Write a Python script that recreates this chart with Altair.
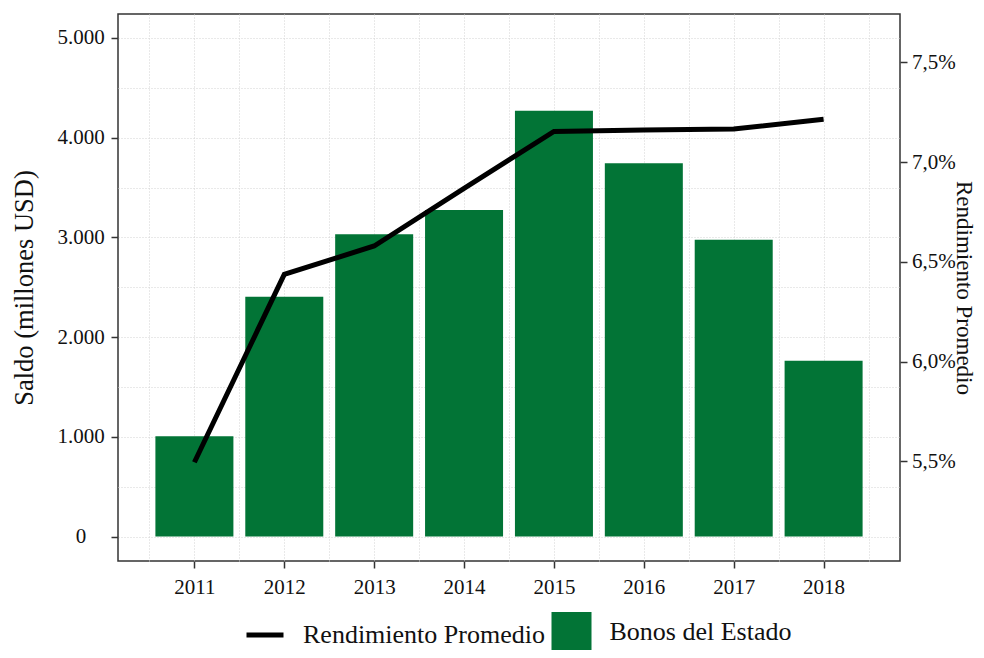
import altair as alt
import pandas as pd

# ---- data ----
anios = [2011, 2012, 2013, 2014, 2015, 2016, 2017, 2018]
saldo = [1005, 2404, 3031, 3275, 4269, 3744, 2976, 1762]          # millones USD
rendimiento = [5.495, 6.437, 6.579, 6.868, 7.153, 7.161, 7.165, 7.214]  # %

serie_linea = "Rendimiento Promedio"
serie_barra = "Bonos del Estado"

df = pd.DataFrame({
    "anio": anios,
    "saldo": saldo,
    "rend": rendimiento,
    "s_linea": [serie_linea] * len(anios),
    "s_barra": [serie_barra] * len(anios),
})

VERDE = "#027436"
FONT = "Liberation Serif"
GRID = "#d2d2d2"

x_vals = [a + d for a in anios for d in (-0.5, 0)] + [anios[-1] + 0.5]

x_enc = alt.X(
    "anio:Q",
    scale=alt.Scale(domain=[2010.15, 2018.85], nice=False, zero=False, padding=0),
    axis=alt.Axis(
        title=None,
        values=x_vals,
        labelExpr="datum.value % 1 === 0 ? format(datum.value, 'd') : ''",
        tickOpacity={"condition": {"test": "datum.value % 1 === 0", "value": 1}, "value": 0},
        tickSize=7, tickWidth=1.5, tickColor="#333333",
        labelPadding=8, labelFontSize=21, labelColor="#111111",
        grid=True, gridColor=GRID, gridDash=[1, 2], gridWidth=1,
        domain=False,
    ),
)

barras = alt.Chart(df).mark_bar(size=78).encode(
    x=x_enc,
    y=alt.Y(
        "saldo:Q",
        scale=alt.Scale(domain=[-245, 5240], nice=False, zero=False, padding=0),
        axis=alt.Axis(
            title="Saldo (millones USD)",
            values=[0, 500, 1000, 1500, 2000, 2500, 3000, 3500, 4000, 4500, 5000],
            labelExpr="datum.value % 1000 === 0 ? replace(format(datum.value, ',d'), ',', '.') : ''",
            tickOpacity={"condition": {"test": "datum.value % 1000 === 0", "value": 1}, "value": 0},
            tickSize=7, tickWidth=1.5, tickColor="#333333",
            labelAlign="center", labelPadding=30.5, labelFontSize=21, labelColor="#111111",
            titleFontSize=26.5, titleFontWeight="normal", titleColor="#111111", titlePadding=18,
            grid=True, gridColor=GRID, gridDash=[1, 2], gridWidth=1,
            domain=False,
        ),
    ),
    fill=alt.Fill(
        "s_barra:N",
        scale=alt.Scale(domain=[serie_barra], range=[VERDE]),
        legend=alt.Legend(
            title=None, orient="none", legendX=433.5, legendY=598,
            symbolType="square", symbolSize=1600, symbolStrokeWidth=0,
            symbolOpacity=1, labelFontSize=26, labelOffset=18, labelColor="#111111",
            padding=0, labelLimit=400,
        ),
    ),
)

linea = alt.Chart(df).mark_line(strokeWidth=5, strokeCap="butt", strokeJoin="miter").encode(
    x=alt.X("anio:Q"),
    y=alt.Y(
        "rend:Q",
        scale=alt.Scale(domain=[5.0, 7.742], nice=False, zero=False, padding=0),
        axis=alt.Axis(
            title="Rendimiento Promedio", orient="right",
            values=[5.5, 6.0, 6.5, 7.0, 7.5],
            labelExpr="replace(format(datum.value, '.1f'), '.', ',') + '%'",
            tickSize=7, tickWidth=1.5, tickColor="#333333",
            labelPadding=4.5, labelFontSize=21, labelColor="#111111",
            titleFontSize=23, titleFontWeight="normal", titleColor="#111111", titlePadding=-4,
            grid=False, domain=False,
        ),
    ),
    stroke=alt.Stroke(
        "s_linea:N",
        scale=alt.Scale(domain=[serie_linea], range=["#000000"]),
        legend=alt.Legend(
            title=None, orient="none", legendX=126, legendY=600,
            symbolType="stroke", symbolSize=1369, symbolStrokeWidth=5,
            labelFontSize=26, labelOffset=17, labelColor="#111111",
            padding=0, labelLimit=400,
        ),
    ),
)

chart = (
    alt.layer(barras, linea)
    .resolve_scale(y="independent", fill="independent", stroke="independent")
    .properties(
        width=782, height=547,
        autosize=alt.AutoSizeParams(type="none"),
        padding={"left": 110, "top": 6, "right": 76, "bottom": 89},
        background="white",
    )
    .configure(font=FONT)
    .configure_view(stroke="#333333", strokeWidth=1.5)
)

chart.save("out.html", embed_options={"renderer": "svg", "actions": False})
